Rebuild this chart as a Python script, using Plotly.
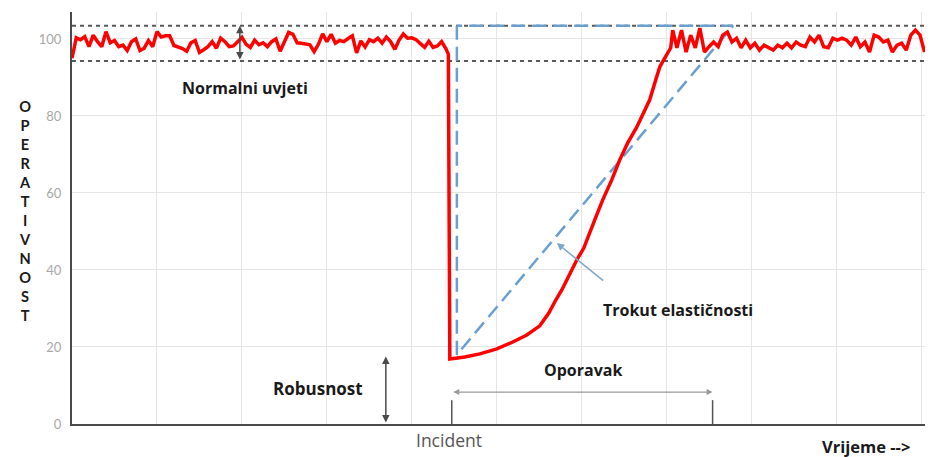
import numpy as np
import plotly.graph_objects as go

# ---------------- data ----------------
# normal operation before the incident (sampled evenly, t = 0 .. 44)
left_noise = [95.0, 100.3, 99.8, 100.6, 98.0, 101.0, 99.3, 98.0, 101.9, 99.0,
              99.6, 98.0, 98.4, 97.0, 99.3, 100.0, 97.0, 97.6, 99.6, 98.0,
              101.9, 100.5, 100.8, 100.8, 98.3, 98.0, 97.5, 96.8, 99.0, 99.6,
              96.5, 97.2, 98.0, 99.3, 97.6, 100.2, 99.3, 98.0, 98.2, 99.3,
              100.4, 98.6, 97.8, 99.7, 98.5, 99.0, 98.0,
              99.3, 100.0, 96.8, 99.3, 101.7, 101.2, 99.0, 98.9, 98.8, 98.5,
              96.7, 98.6, 101.3, 99.3, 101.2, 98.9, 99.6, 99.3, 100.1, 100.8,
              96.4, 99.5, 97.9, 99.8, 99.3, 100.2, 98.9, 100.5, 99.3, 97.3,
              99.7, 101.3, 100.2, 100.3, 99.8, 98.9, 97.8, 99.4, 97.8, 98.2,
              99.3, 97.5]
left_t = (0.0, 44.0)

# drop at the incident and recovery curve
recovery_t = [44.3, 44.47, 46.24, 48.0, 50.0, 51.88, 53.53, 55.06, 56.12, 56.94,
              57.65, 58.24, 58.94, 59.41, 60.24, 60.94, 61.76, 62.47, 63.53,
              64.47, 65.41, 66.47, 67.29, 68.0, 68.71, 69.18, 69.65, 70.0,
              70.47, 70.71]
recovery_v = [96.0, 16.9, 17.4, 18.2, 19.5, 21.3, 23.1, 25.5, 28.8, 32.2,
              34.8, 37.4, 40.5, 42.6, 45.7, 49.9, 54.3, 58.2, 63.4,
              68.6, 73.0, 77.1, 81.0, 84.2, 89.4, 92.7, 94.6, 95.8,
              97.7, 102.3]

# normal operation after recovery (sampled evenly, t = 71.2 .. 100.35)
right_noise = [97.7, 102.3, 96.6, 101.0, 97.7, 102.8, 96.6, 98.0, 99.2, 98.0,
               101.0, 101.8, 99.2, 100.2, 97.7, 99.7, 97.7, 98.9, 97.1, 98.4,
               97.7, 97.1, 98.4, 97.7, 98.9, 97.7, 99.2, 98.4,
               98.0, 100.5, 99.2, 101.0, 98.0, 97.7, 100.2, 99.7, 100.2, 99.7,
               98.4, 100.5, 98.0, 99.2, 96.6, 101.0, 100.5, 99.2, 99.7, 96.6,
               98.4, 98.9, 97.1, 101.0, 102.3, 101.0, 96.6]
right_t = (71.2, 100.35)

# normal-conditions band
band = [94.3, 103.4]

# resilience triangle vertices
tri_t = [45.3, 45.3, 77.8, 45.3]
tri_v = [103.4, 18.0, 103.4, 103.4]

incident_t = 44.7
recovered_t = 75.4
robust_level = 17.5

y_ticks = [0, 20, 40, 60, 80, 100]

# ---------------- figure ----------------
lt = np.linspace(left_t[0], left_t[1], len(left_noise))
rt = np.linspace(right_t[0], right_t[1], len(right_noise))
red_x = list(lt) + recovery_t + list(rt)
red_y = left_noise + recovery_v + right_noise

fig = go.Figure()

for b in band:
    fig.add_trace(go.Scatter(x=[0, 100.4], y=[b, b], mode="lines",
                             line=dict(color="#5a5a5a", width=2, dash="4px,4px"),
                             hoverinfo="skip"))

fig.add_trace(go.Scatter(x=tri_t, y=tri_v, mode="lines",
                         line=dict(color="#6a9fd0", width=2.5, dash="14px,7px"),
                         hoverinfo="skip"))

fig.add_trace(go.Scatter(x=red_x, y=red_y, mode="lines",
                         line=dict(color="#ff0000", width=3.5),
                         hoverinfo="skip"))

bold = dict(family="Open Sans", size=16, color="#1a1a1a")
fig.add_annotation(x=20.35, y=87.3, text="<b>Normalni uvjeti</b>", showarrow=False, font=bold)
fig.add_annotation(x=28.9, y=9.35, text="<b>Robusnost</b>", showarrow=False,
                   font=dict(family="Open Sans", size=17, color="#1a1a1a"))
fig.add_annotation(x=60.1, y=14.0, text="<b>Oporavak</b>", showarrow=False, font=bold)
fig.add_annotation(x=71.3, y=29.6, text="<b>Trokut elastičnosti</b>", showarrow=False, font=bold)
fig.add_annotation(x=44.4, yref="paper", y=-0.0388, yanchor="middle", text="Incident",
                   showarrow=False, font=dict(family="Open Sans", size=17.5, color="#555555"))
fig.add_annotation(x=93.4, yref="paper", y=-0.0558, yanchor="middle", text="<b>Vrijeme --></b>",
                   showarrow=False, font=dict(family="Open Sans", size=16.5, color="#1a1a1a"))
fig.add_annotation(xref="paper", x=-0.0645, y=55.2,
                   text="<b>" + "<br>".join("OPERATIVNOST") + "</b>",
                   showarrow=False, font=dict(family="Lato", size=14.6, color="#1a1a1a"))

# double arrows
def darrow(x0, y0, x1, y1, color, width, head=2):
    fig.add_annotation(x=x1, y=y1, ax=x0, ay=y0, xref="x", yref="y", axref="x", ayref="y",
                       text="", showarrow=True, arrowhead=head, startarrowhead=head,
                       arrowside="end+start", arrowwidth=width, arrowcolor=color,
                       arrowsize=1, startarrowsize=1)

darrow(19.76, band[0], 19.76, band[1], "#4a4a4a", 1.5)
darrow(36.94, 0, 36.94, robust_level, "#4a4a4a", 1.5)
darrow(incident_t, 8.3, recovered_t, 8.3, "#999999", 1.2)

fig.add_annotation(x=57.06, y=47.0, ax=62.7, ay=36.9, xref="x", yref="y", axref="x", ayref="y",
                   text="", showarrow=True, arrowhead=2, arrowwidth=1.5, arrowcolor="#7fa6c8")

for tx in [incident_t, recovered_t]:
    fig.add_trace(go.Scatter(x=[tx, tx], y=[0, 6.2], mode="lines",
                             line=dict(color="#555555", width=1.5), hoverinfo="skip"))

fig.update_layout(
    width=931, height=457, margin=dict(l=72, r=6, t=12, b=33),
    plot_bgcolor="white", paper_bgcolor="white", showlegend=False,
    xaxis=dict(range=[0, 100.4], dtick=10, tick0=0, showticklabels=False,
               showgrid=True, gridcolor="#e6e6e6", gridwidth=1, zeroline=False,
               showline=True, linecolor="#4a4a4a", linewidth=2, ticks=""),
    yaxis=dict(range=[0, 107], tickvals=y_ticks, showgrid=True, gridcolor="#e6e6e6",
               gridwidth=1, zeroline=False, showline=True, linecolor="#4a4a4a",
               linewidth=2, ticks="", ticklabelstandoff=6,
               tickfont=dict(family="Lato", size=13, color="#a8a8a8")),
)

fig.write_html("out.html", config={"displayModeBar": False},
               post_script="document.body.style.margin='0';document.body.style.overflow='hidden';")
